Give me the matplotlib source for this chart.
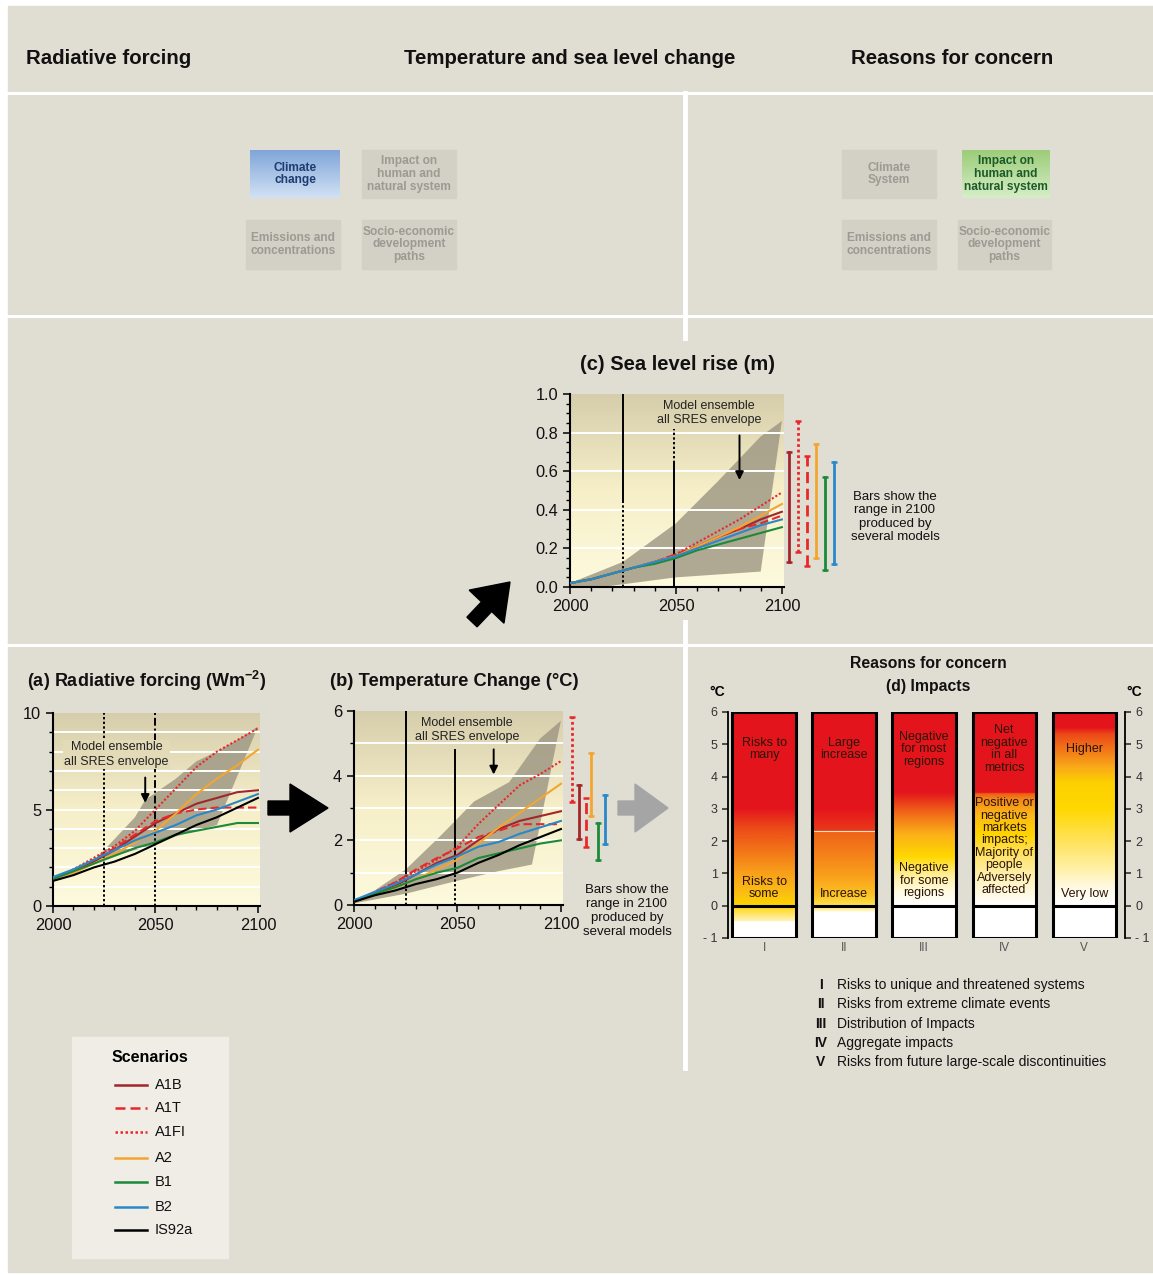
import numpy as np
import matplotlib
matplotlib.use("Agg")
import matplotlib.pyplot as plt
from matplotlib import patches
from matplotlib.colors import LinearSegmentedColormap

plt.rcParams['font.family'] = ['Liberation Sans', 'DejaVu Sans']
plt.rcParams['mathtext.fontset'] = 'custom'
plt.rcParams['mathtext.rm'] = 'Liberation Sans'
plt.rcParams['mathtext.bf'] = 'Liberation Sans:bold'

W, H = 1153, 1275
BG = '#e0ddd2'

# ---------------- data ----------------
years = [2000, 2010, 2020, 2030, 2040, 2050, 2060, 2070, 2080, 2090, 2100]
scenarios = ['A1B', 'A1T', 'A1FI', 'A2', 'B1', 'B2', 'IS92a']

# (a) radiative forcing, W m-2
forcing_a1b = [1.4, 1.8, 2.3, 2.9, 3.6, 4.3, 4.8, 5.3, 5.6, 5.9, 6.0]
forcing_a1t = [1.4, 1.8, 2.4, 3.0, 3.7, 4.4, 4.8, 5.0, 5.1, 5.1, 5.1]
forcing_a1fi = [1.4, 1.9, 2.5, 3.1, 3.9, 5.0, 6.1, 7.2, 8.0, 8.6, 9.2]
forcing_a2 = [1.4, 1.7, 2.2, 2.7, 3.3, 3.9, 4.8, 5.8, 6.6, 7.3, 8.1]
forcing_b1 = [1.4, 1.8, 2.2, 2.6, 3.0, 3.3, 3.7, 3.9, 4.1, 4.3, 4.3]
forcing_b2 = [1.5, 1.9, 2.4, 2.9, 3.4, 3.8, 4.2, 4.7, 5.0, 5.4, 5.8]
forcing_is92a = [1.3, 1.6, 2.0, 2.3, 2.7, 3.2, 3.7, 4.2, 4.6, 5.1, 5.6]
env_a_upper_years = [2022, 2025, 2040, 2045, 2060, 2070, 2080, 2090, 2100]
env_a_upper = [2.6, 2.9, 4.6, 5.5, 6.6, 7.5, 8.0, 8.6, 9.3]
env_a_lower_years = [2022, 2030, 2040, 2050, 2060, 2070, 2080, 2100]
env_a_lower = [2.5, 2.6, 2.9, 3.2, 3.6, 3.9, 4.2, 9.3]

# (b) temperature change, deg C
temp_a1b = [0.1, 0.35, 0.6, 0.95, 1.3, 1.55, 2.0, 2.35, 2.6, 2.75, 2.9]
temp_a1t = [0.1, 0.4, 0.7, 1.1, 1.45, 1.75, 2.1, 2.3, 2.5, 2.5, 2.5]
temp_a1fi = [0.1, 0.4, 0.7, 1.05, 1.4, 1.8, 2.5, 3.1, 3.7, 4.05, 4.45]
temp_a2 = [0.1, 0.3, 0.55, 0.8, 1.1, 1.4, 1.9, 2.4, 2.85, 3.3, 3.75]
temp_b1 = [0.1, 0.35, 0.55, 0.8, 1.0, 1.15, 1.45, 1.6, 1.75, 1.9, 2.0]
temp_b2 = [0.15, 0.4, 0.65, 0.95, 1.25, 1.5, 1.8, 1.95, 2.2, 2.4, 2.6]
temp_is92a = [0.1, 0.3, 0.45, 0.65, 0.8, 1.0, 1.3, 1.55, 1.85, 2.1, 2.35]
env_b_upper_years = [2000, 2010, 2025, 2042, 2058, 2075, 2090, 2100]
env_b_upper = [0.15, 0.45, 1.1, 2.15, 3.2, 3.8, 5.15, 5.7]
env_b_lower_years = [2000, 2025, 2050, 2070, 2086, 2100]
env_b_lower = [0.05, 0.35, 0.75, 1.05, 1.25, 5.7]
bars_b_names = ['A1FI', 'A1B', 'A1T', 'A2', 'B1', 'B2']
bars_b_low = [3.2, 2.05, 1.8, 2.75, 1.4, 1.9]
bars_b_high = [5.8, 3.7, 3.3, 4.7, 2.55, 3.4]

# (c) sea level rise, m
sea_a1b = [0.02, 0.04, 0.07, 0.10, 0.13, 0.16, 0.21, 0.26, 0.30, 0.35, 0.39]
sea_a1t = [0.02, 0.04, 0.07, 0.10, 0.13, 0.17, 0.21, 0.26, 0.30, 0.33, 0.37]
sea_a1fi = [0.02, 0.04, 0.07, 0.10, 0.13, 0.17, 0.23, 0.29, 0.35, 0.42, 0.49]
sea_a2 = [0.02, 0.04, 0.07, 0.10, 0.13, 0.16, 0.21, 0.26, 0.31, 0.37, 0.43]
sea_b1 = [0.02, 0.04, 0.07, 0.10, 0.12, 0.15, 0.19, 0.22, 0.25, 0.28, 0.31]
sea_b2 = [0.02, 0.04, 0.07, 0.10, 0.13, 0.16, 0.20, 0.24, 0.28, 0.32, 0.35]
env_c_upper_years = [2000, 2025, 2050, 2070, 2090, 2100]
env_c_upper = [0.02, 0.13, 0.33, 0.55, 0.78, 0.86]
env_c_lower_years = [2000, 2015, 2050, 2090, 2100]
env_c_lower = [0.0, 0.0, 0.05, 0.08, 0.86]
bars_c_names = ['A1B', 'A1FI', 'A1T', 'A2', 'B1', 'B2']
bars_c_low = [0.13, 0.18, 0.11, 0.15, 0.09, 0.12]
bars_c_high = [0.70, 0.86, 0.68, 0.74, 0.57, 0.65]

# (d) reasons for concern: colour stops (temperature, colour) per column
concern_ids = ['I', 'II', 'III', 'IV', 'V']
concern_names = ['Risks to unique and threatened systems',
                 'Risks from extreme climate events',
                 'Distribution of Impacts',
                 'Aggregate impacts',
                 'Risks from future large-scale discontinuities']
stops_I_t = [-1, -0.5, -0.48, 0, 0.4, 1.0, 1.7, 2.4, 3.0, 6]
stops_I_c = ['#ffffff', '#ffffff', '#fff3b8', '#ffd400', '#fbbd14', '#f8a01a',
             '#f27418', '#ec4a18', '#e4141c', '#e4141c']
stops_II_t = [-1, -0.2, -0.18, 0, 0.3, 0.9, 1.6, 2.29, 2.31, 3.0, 6]
stops_II_c = ['#ffffff', '#ffffff', '#fff6c8', '#ffe050', '#fcc424', '#f9a01c',
              '#f4801a', '#ee6218', '#ea3a1a', '#e4141c', '#e4141c']
stops_III_t = [-1, 0, 0.4, 0.9, 1.5, 2.2, 2.8, 3.5, 6]
stops_III_c = ['#ffffff', '#ffffff', '#fffbe4', '#fff0a0', '#ffd800', '#fbb018',
               '#f27018', '#e4141c', '#e4141c']
stops_IV_t = [-1, 0, 0.7, 1.5, 2.2, 2.8, 3.3, 3.45, 3.5, 6]
stops_IV_c = ['#ffffff', '#ffffff', '#fff4c4', '#ffe470', '#ffd400', '#fbb818',
              '#f4841a', '#ee6018', '#e4141c', '#e4141c']
stops_V_t = [-1, 0, 0.5, 1.2, 2.0, 3.0, 3.8, 4.3, 4.8, 5.3, 5.5, 6]
stops_V_c = ['#ffffff', '#ffffff', '#fffae8', '#fff0a0', '#ffe25a', '#ffd800',
             '#fdd000', '#f9a81a', '#f27818', '#ec4a18', '#e4141c', '#e4141c']
concern_upper_text = ['Risks to\nmany', 'Large\nincrease', 'Negative\nfor most\nregions',
                      'Net\nnegative\nin all\nmetrics', 'Higher']
concern_lower_text = ['Risks to\nsome', 'Increase', 'Negative\nfor some\nregions',
                      'Positive or\nnegative\nmarkets\nimpacts;\nMajority of\npeople\nAdversely\naffected',
                      'Very low']
concern_upper_level = [4.85, 4.85, 4.85, 4.85, 4.85]
concern_lower_level = [0.55, 0.35, 0.77, 1.83, 0.35]

# ---------------- styles ----------------
styles = {
    'A1B': dict(color='#a3262b', ls='-'),
    'A1T': dict(color='#e8282a', ls=(0, (4, 2))),
    'A1FI': dict(color='#e8282a', ls=(0, (1, 1))),
    'A2': dict(color='#f3a530', ls='-'),
    'B1': dict(color='#1b8a3a', ls='-'),
    'B2': dict(color='#2a88c8', ls='-'),
    'IS92a': dict(color='#000000', ls='-'),
}
area_cmap = LinearSegmentedColormap.from_list('area', ['#fdfade', '#f6efc8', '#d6cdac'])
grad = np.linspace(0, 1, 256).reshape(-1, 1)

fig = plt.figure(figsize=(W / 100, H / 100), dpi=100, facecolor='white')
bg = fig.add_axes([0, 0, 1, 1])
bg.set_autoscale_on(False)
bg.set_xlim(0, W)
bg.set_ylim(H, 0)
bg.axis('off')
bg.add_patch(patches.Rectangle((8, 6), W - 8, 1266, color=BG, zorder=0))

# separators
for xs, ys in [([8, W], [93, 93]), ([8, W], [316, 316]), ([8, W], [645, 645])]:
    bg.plot(xs, ys, color='white', lw=2.2, zorder=1)
for ys in [[93, 338], [622, 1068]]:
    bg.plot([685, 685], ys, color='white', lw=3.5, zorder=1)

# header
hdr = dict(fontsize=14.7, fontweight='bold', va='center', color='#111111')
bg.text(26, 58, 'Radiative forcing', ha='left', **hdr)
bg.text(570, 58, 'Temperature and sea level change', ha='center', **hdr)
bg.text(952, 58, 'Reasons for concern', ha='center', **hdr)


# small boxes
def grad_box(x0, y0, x1, y1, top, bottom):
    cm = LinearSegmentedColormap.from_list('b', [top, bottom])
    bg.imshow(grad[::-1], extent=[x0, x1, y1, y0], cmap=cm, aspect='auto', zorder=2,
              origin='lower')


boxes = [
    ('Climate\nchange', 250, 150, 340, 198, 'blue'),
    ('Impact on\nhuman and\nnatural system', 362, 150, 456, 198, 'grey'),
    ('Emissions and\nconcentrations', 246, 220, 340, 269, 'grey'),
    ('Socio-economic\ndevelopment\npaths', 362, 220, 456, 269, 'grey'),
    ('Climate\nSystem', 842, 150, 936, 198, 'grey'),
    ('Impact on\nhuman and\nnatural system', 962, 150, 1050, 198, 'green'),
    ('Emissions and\nconcentrations', 842, 220, 936, 269, 'grey'),
    ('Socio-economic\ndevelopment\npaths', 958, 220, 1051, 269, 'grey'),
]
for label, x0, y0, x1, y1, kind in boxes:
    if kind == 'blue':
        grad_box(x0, y0, x1, y1, '#80a5d8', '#d2e2f4')
        tc = '#1d3c70'
    elif kind == 'green':
        grad_box(x0, y0, x1, y1, '#9ccc78', '#d6eec8')
        tc = '#1d5a28'
    else:
        bg.add_patch(patches.Rectangle((x0, y0), x1 - x0, y1 - y0, color='#d3d0c5', zorder=2))
        tc = '#9c9a93'
    bg.text((x0 + x1) / 2, (y0 + y1) / 2, label, ha='center', va='center', fontsize=8.6,
            fontweight='bold', color=tc, linespacing=1.1, zorder=3)

# arrows between panels
bg.add_patch(patches.FancyArrow(268, 808, 60, 0, width=14, head_width=48, head_length=38,
                                length_includes_head=True, color='black', zorder=3))
bg.add_patch(patches.FancyArrow(618, 808, 50, 0, width=14, head_width=48, head_length=33,
                                length_includes_head=True, color='#a5a5a5', zorder=3))
bg.add_patch(patches.FancyArrow(472, 622, 38, -40, width=14, head_width=48, head_length=34,
                                length_includes_head=True, color='black', zorder=3))


def panel_axes(left, right, top, bottom):
    ax = fig.add_axes([left / W, 1 - bottom / H, (right - left) / W, (bottom - top) / H])
    ax.set_facecolor('none')
    return ax


def chart(ax, series, ymax, grid, yticks, ylabels, env, xmax=2101):
    ax.imshow(grad, extent=[2000, xmax, 0, ymax], origin='lower', aspect='auto',
              cmap=area_cmap, zorder=0)
    (uy, uv), (ly, lv) = env
    ax.fill(list(uy) + list(ly)[::-1], list(uv) + list(lv)[::-1], color='#9c9582',
            alpha=0.8, lw=0, zorder=1)
    for g in grid:
        ax.plot([2000, xmax], [g, g], color='white', lw=1.4, zorder=1.5)
    for name, vals in series.items():
        ax.plot(years, vals, lw=1.5, zorder=3, **styles[name])
    ax.set_xlim(2000, xmax)
    ax.set_ylim(0, ymax)
    for s in ['top', 'right']:
        ax.spines[s].set_visible(False)
    for s in ['left', 'bottom']:
        ax.spines[s].set_linewidth(1.5)
    ax.set_xticks([2000, 2050, 2100])
    ax.set_xticks(range(2000, 2101, 10), minor=True)
    ax.set_yticks(yticks)
    ax.set_yticklabels(ylabels)
    ax.tick_params(labelsize=11.8, length=5, width=1.2, colors='#111111')
    ax.tick_params(which='minor', length=3, width=1)


def range_bars(ax, names, lows, highs, xs):
    for name, lo, hi, x in zip(names, lows, highs, xs):
        st = styles[name]
        ax.plot([x, x], [lo, hi], color=st['color'], ls=st['ls'], lw=2, clip_on=False, zorder=3)
        ax.plot([x, x], [lo, hi], ls='none', marker='_', ms=5, mew=1.8, color=st['color'],
                clip_on=False, zorder=3)


def envelope_note(ax, tx, ty, ax_x, ay0, ay1, face=None):
    box = None
    if face is not None:
        box = dict(boxstyle='square,pad=0.1', facecolor=face, edgecolor='none')
    ax.text(tx, ty, 'Model ensemble\nall SRES envelope', ha='center', va='center',
            fontsize=9, color='#222222', linespacing=1.25, zorder=4, bbox=box)
    ax.annotate('', xy=(ax_x, ay1), xytext=(ax_x, ay0),
                arrowprops=dict(arrowstyle='-|>', color='black', lw=1.4, mutation_scale=12),
                zorder=4)


# ---- (a) ----
ax_a = panel_axes(53, 260, 713, 906)
chart(ax_a, dict(zip(scenarios, [forcing_a1b, forcing_a1t, forcing_a1fi, forcing_a2,
                                 forcing_b1, forcing_b2, forcing_is92a])),
      10, range(1, 10), [0, 5, 10], ['0', '5', '10'],
      ((env_a_upper_years, env_a_upper), (env_a_lower_years, env_a_lower)))
ax_a.set_yticks(range(0, 11), minor=True)
ax_a.axvline(2025, color='black', ls=(0, (1.2, 1.2)), lw=1.4, zorder=2)
ax_a.axvline(2050, ymin=0, ymax=0.45, color='black', ls=(0, (1.2, 1.2)), lw=1.4, zorder=2)
ax_a.axvline(2050, ymin=0.45, ymax=1, color='black', ls=(0, (4, 1.5, 1, 1.5)), lw=1.4, zorder=2)
envelope_note(ax_a, 2031, 7.85, 2045, 6.8, 5.2, face='#e3dbb8')
bg.text(27, 681, r'(a) Radiative forcing (Wm$^{\mathbf{-2}}$)', fontsize=13, fontweight='bold',
        va='center', ha='left', color='#111111')

# ---- (b) ----
ax_b = panel_axes(354, 563, 711, 905)
chart(ax_b, dict(zip(scenarios, [temp_a1b, temp_a1t, temp_a1fi, temp_a2,
                                 temp_b1, temp_b2, temp_is92a])),
      6, range(1, 6), [0, 2, 4, 6], ['0', '2', '4', '6'],
      ((env_b_upper_years, env_b_upper), (env_b_lower_years, env_b_lower)))
ax_b.set_yticks(range(0, 7), minor=True)
ax_b.axvline(2025, ymin=1.0 / 6, ymax=1, color='black', lw=1.4, zorder=2)
ax_b.axvline(2025, ymin=0, ymax=1.0 / 6, color='black', ls=(0, (1.2, 1.2)), lw=1.4, zorder=2)
ax_b.axvline(2049, ymin=1.0 / 6, ymax=4.8 / 6, color='black', lw=1.4, zorder=2)
ax_b.axvline(2049, ymin=0, ymax=1.0 / 6, color='black', ls=(0, (1.2, 1.2)), lw=1.4, zorder=2)
envelope_note(ax_b, 2054.5, 5.42, 2067.5, 4.9, 3.95)
range_bars(ax_b, bars_b_names, bars_b_low, bars_b_high,
           [2105.5, 2108.5, 2112, 2114.5, 2118, 2121.5])
bg.text(330, 681, '(b) Temperature Change (°C)', fontsize=13.2, fontweight='bold',
        va='center', ha='left', color='#111111')
bg.text(627, 911, 'Bars show the\nrange in 2100\nproduced by\nseveral models', ha='center',
        va='center', fontsize=9.5, color='#111111', linespacing=1.2)

# ---- (c) ----
ax_c = panel_axes(570, 784, 394, 587)
chart(ax_c, dict(zip(scenarios[:6], [sea_a1b, sea_a1t, sea_a1fi, sea_a2, sea_b1, sea_b2])),
      1.0, [0.2, 0.4, 0.6, 0.8], [0, 0.2, 0.4, 0.6, 0.8, 1.0],
      ['0.0', '0.2', '0.4', '0.6', '0.8', '1.0'],
      ((env_c_upper_years, env_c_upper), (env_c_lower_years, env_c_lower)))
ax_c.set_yticks(np.arange(0, 1.01, 0.05), minor=True)
ax_c.axvline(2025, ymin=0.45, ymax=1, color='black', lw=1.4, zorder=2)
ax_c.axvline(2025, ymin=0, ymax=0.45, color='black', ls=(0, (1.2, 1.2)), lw=1.4, zorder=2)
ax_c.axvline(2049, ymin=0, ymax=0.64, color='black', lw=1.4, zorder=2)
ax_c.axvline(2049, ymin=0.64, ymax=0.82, color='black', ls=(0, (1.2, 1.2)), lw=1.4, zorder=2)
envelope_note(ax_c, 2065.5, 0.9, 2080, 0.8, 0.54)
range_bars(ax_c, bars_c_names, bars_c_low, bars_c_high,
           [2103.5, 2107.5, 2112, 2116, 2120.3, 2124.6])
bg.text(677, 364, '(c) Sea level rise (m)', fontsize=14.5, fontweight='bold',
        va='center', ha='center', color='#111111')
bg.text(895, 517, 'Bars show the\nrange in 2100\nproduced by\nseveral models', ha='center',
        va='center', fontsize=9.5, color='#111111', linespacing=1.15)

# ---- (d) ----
ax_d = panel_axes(728, 1125, 712, 938)
ax_d.set_xlim(0.55, 5.51)
ax_d.set_ylim(-1, 6)
col_w = 0.79
stops = [(stops_I_t, stops_I_c), (stops_II_t, stops_II_c), (stops_III_t, stops_III_c),
         (stops_IV_t, stops_IV_c), (stops_V_t, stops_V_c)]
tdark = '#2a1408'
for i, (ts, cs) in enumerate(stops):
    c = i + 1
    pos = [(t + 1) / 7.0 for t in ts]
    cm = LinearSegmentedColormap.from_list('c%d' % c, list(zip(pos, cs)))
    ax_d.imshow(np.linspace(0, 1, 700).reshape(-1, 1), extent=[c - col_w / 2, c + col_w / 2, -1, 6],
                origin='lower', aspect='auto', cmap=cm, zorder=1)
    ax_d.add_patch(patches.Rectangle((c - col_w / 2, -1), col_w, 7, fill=False, lw=2.2,
                                     ec='black', zorder=3))
    ax_d.plot([c - col_w / 2, c + col_w / 2], [0, 0], color='black', lw=2.2, zorder=3)
    ax_d.text(c, concern_upper_level[i], concern_upper_text[i], ha='center', va='center',
              fontsize=9, color=tdark, linespacing=1.05, zorder=4)
    ax_d.text(c, concern_lower_level[i], concern_lower_text[i], ha='center', va='center',
              fontsize=9, color=tdark, linespacing=1.05, zorder=4)
    ax_d.text(c, -1.32, concern_ids[i], ha='center', va='center', fontsize=8.5,
              color='#555555')
ax_d.plot([2 - col_w / 2 + 0.02, 2 + col_w / 2 - 0.02], [2.3, 2.3], color='#f3e0c8', lw=0.8,
          zorder=2)
for s in ['top', 'bottom']:
    ax_d.spines[s].set_visible(False)
for s in ['left', 'right']:
    ax_d.spines[s].set_linewidth(1.3)
ax_d.set_xticks([])
ax_d.set_yticks(range(-1, 7))
ax_d.set_yticklabels(['- 1'] + [str(v) for v in range(0, 7)])
ax_d.tick_params(axis='y', left=True, right=True, labelleft=True, labelright=True,
                 labelsize=9, length=4, width=1.2, colors='#333333')
bg.text(717, 692, '°C', fontsize=10, fontweight='bold', ha='center', va='center')
bg.text(1134, 692, '°C', fontsize=10, fontweight='bold', ha='center', va='center')
bg.text(928, 664, 'Reasons for concern', fontsize=11.3, fontweight='bold', ha='center',
        va='center', color='#111111')
bg.text(928, 687, '(d) Impacts', fontsize=11.3, fontweight='bold', ha='center',
        va='center', color='#111111')

for k, (rid, name) in enumerate(zip(concern_ids, concern_names)):
    y = 985 + k * 19.3
    bg.text(821, y, rid, fontsize=10, fontweight='bold', ha='center', va='center',
            color='#111111')
    bg.text(837, y, name, fontsize=10, ha='left', va='center', color='#111111')

# ---- legend ----
bg.add_patch(patches.Rectangle((72, 1037), 156, 221, color='#efede6', zorder=1))
bg.text(150, 1057, 'Scenarios', fontsize=11.5, fontweight='bold', ha='center', va='center')
leg_y = [1085, 1108, 1132, 1158, 1182, 1207, 1230]
for name, y in zip(scenarios, leg_y):
    st = styles[name]
    bg.plot([115, 147], [y, y], color=st['color'], ls=st['ls'], lw=1.8, zorder=2)
    bg.text(155, y, name, fontsize=10.5, ha='left', va='center', color='#111111')

fig.savefig('out.png', dpi=100, facecolor='white')
